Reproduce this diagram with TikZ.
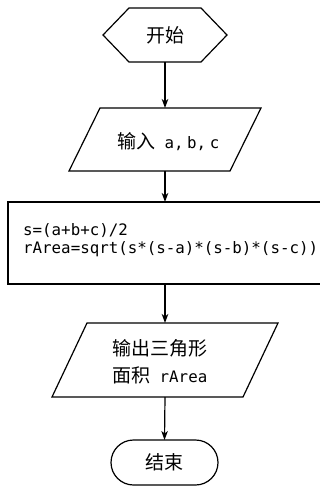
\documentclass[tikz,border=0pt]{standalone}
\usepackage{fontspec}
\setmainfont{DejaVu Sans Mono}
\newfontfamily\cjkf{Noto Sans CJK SC}
\newcommand{\zh}[1]{{\cjkf\fontsize{19pt}{27pt}\selectfont #1}}
\usetikzlibrary{arrows.meta}
\begin{document}
\begin{tikzpicture}[x=1pt,y=-1pt,
  shapebox/.style={inner sep=0pt, outer sep=0pt},
  outline/.style={draw=black, line width=1.2pt, line join=miter},
  flow/.style={draw=black, line width=1.2pt, -{Stealth[length=9pt,width=6.5pt,inset=2.5pt]}},
  txt/.style={font=\fontsize{15.8pt}{18pt}\selectfont, text=black}]
\useasboundingbox (0,0) rectangle (320,486);
% start hexagon
\node[shapebox, minimum width=124pt, minimum height=54pt, txt] (start) at (165,35) {\zh{开始}};
\draw[outline] (start.west) -- ([xshift=26pt]start.north west) -- ([xshift=-26pt]start.north east)
  -- (start.east) -- ([xshift=-26pt]start.south east) -- ([xshift=26pt]start.south west) -- cycle;
% input parallelogram
\node[shapebox, minimum width=192pt, minimum height=63pt, txt] (in) at (165,139.5) {};
\draw[outline] ([xshift=31pt]in.north west) -- (in.north east) -- ([xshift=-31pt]in.south east) -- (in.south west) -- cycle;
\node[txt, anchor=west, inner sep=0pt] (intext) at (117,142) {\zh{输入} {\spaceskip=3.5pt plus 0pt minus 0pt a, b, c}};
% process rectangle
\node[shapebox, minimum width=314pt, minimum height=82pt] (proc) at (165,243) {};
\draw[outline] (proc.north west) rectangle (proc.south east);
\node[txt, anchor=west, align=left, inner sep=0pt] (proctext) at (23,240.5)
  {s=(a+b+c)/2\\rArea=sqrt(s*(s-a)*(s-b)*(s-c))};
% output parallelogram
\node[shapebox, minimum width=226pt, minimum height=74pt] (out) at (165,360) {};
\draw[outline] ([xshift=35pt]out.north west) -- (out.north east) -- ([xshift=-35pt]out.south east) -- (out.south west) -- cycle;
\node[txt, anchor=west, align=left, inner sep=0pt, font=\fontsize{15.8pt}{27pt}\selectfont] (outtext) at (112,362)
  {\zh{输出三角形}\\\zh{面积} rArea};
% end terminal
\node[shapebox, minimum width=107pt, minimum height=45pt, txt] (end) at (164.5,462.5) {\zh{结束}};
\draw[outline, rounded corners=22.5pt] (end.north west) rectangle (end.south east);
% connectors
\draw[flow] (start.south) -- (in.north);
\draw[flow] (in.south) -- (proc.north);
\draw[flow] (proc.south) -- (out.north);
\draw[flow] (out.south) -- (end.north);
\end{tikzpicture}
\end{document}
